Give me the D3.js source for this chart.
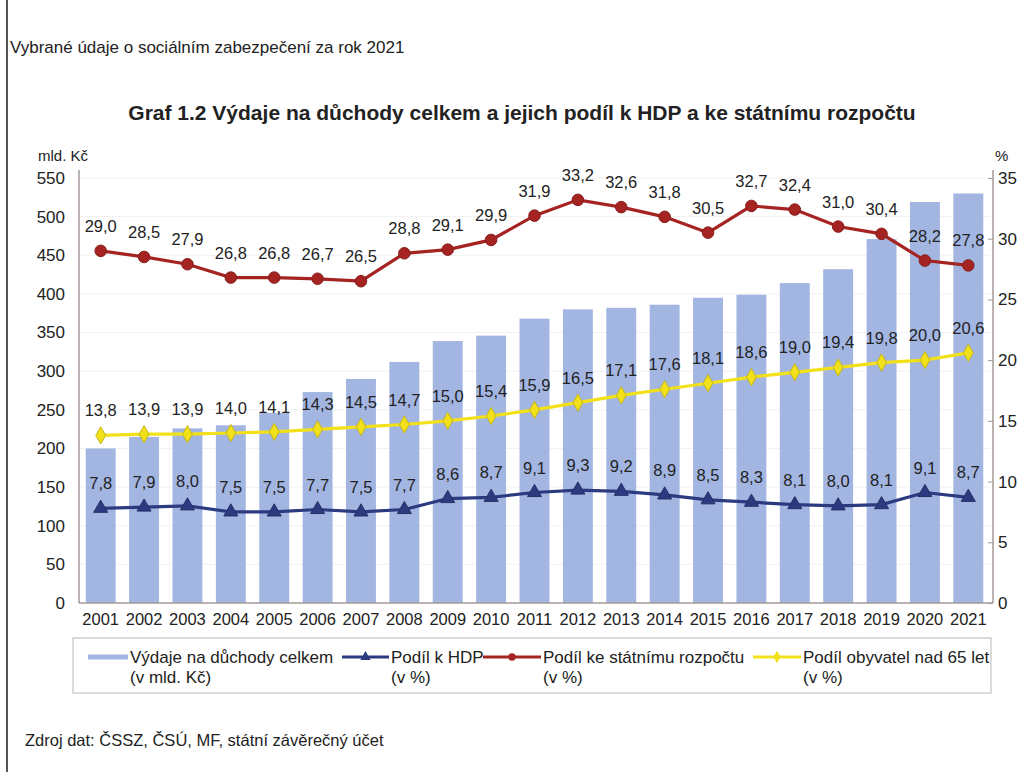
<!DOCTYPE html>
<html>
<head>
<meta charset="utf-8">
<script src="https://cdn.jsdelivr.net/npm/d3@7"></script>
<style>
  body { margin: 0; background: #fff; }
  svg text { font-family: "Liberation Sans", Arial, sans-serif; fill: #222; }
</style>
</head>
<body>
<script>
const width = 1034,
  height = 772,
  marginTop = 178,
  marginBottom = 169,
  marginLeft = 79,
  marginRight = 44;

// data
const years = d3.range(2001, 2022).map(String);
const expenses = [200, 215, 226, 230, 246, 273, 290, 312, 339, 346, 368,
  380, 382, 386, 395, 399, 414, 432, 471, 519, 530];
const shareGdp = [7.8, 7.9, 8.0, 7.5, 7.5, 7.7, 7.5, 7.7, 8.6, 8.7, 9.1,
  9.3, 9.2, 8.9, 8.5, 8.3, 8.1, 8.0, 8.1, 9.1, 8.7];
const shareBudget = [29.0, 28.5, 27.9, 26.8, 26.8, 26.7, 26.5, 28.8, 29.1, 29.9, 31.9,
  33.2, 32.6, 31.8, 30.5, 32.7, 32.4, 31.0, 30.4, 28.2, 27.8];
const share65 = [13.8, 13.9, 13.9, 14.0, 14.1, 14.3, 14.5, 14.7, 15.0, 15.4, 15.9,
  16.5, 17.1, 17.6, 18.1, 18.6, 19.0, 19.4, 19.8, 20.0, 20.6];
const leftTicks = d3.range(0, 551, 50);
const rightTicks = d3.range(0, 36, 5);

const barColor = "#a3b6e2";
const series = [
  { name: "Podíl k HDP", values: shareGdp, color: "#2c3b80", marker: d3.symbolTriangle },
  { name: "Podíl ke státnímu rozpočtu", values: shareBudget, color: "#a52422", marker: d3.symbolCircle },
  { name: "Podíl obyvatel nad 65 let", values: share65, color: "#f2e11a", marker: d3.symbolDiamond },
];

const fmt = (v) => d3.format(".1f")(v).replace(".", ",");

const svg = d3.select("body").append("svg")
  .attr("width", width)
  .attr("height", height);

// page frame line on the left
svg.append("line")
  .attr("x1", 7).attr("x2", 7).attr("y1", 0).attr("y2", height)
  .attr("stroke", "#555").attr("stroke-width", 2);

svg.append("text")
  .attr("x", 10).attr("y", 53)
  .attr("font-size", 17)
  .attr("fill", "#333")
  .text("Vybrané údaje o sociálním zabezpečení za rok 2021");

svg.append("text")
  .attr("x", 522).attr("y", 120)
  .attr("text-anchor", "middle")
  .attr("font-size", 21)
  .attr("font-weight", "bold")
  .text("Graf 1.2 Výdaje na důchody celkem a jejich podíl k HDP a ke státnímu rozpočtu");

const x = d3.scaleBand()
  .domain(years)
  .range([marginLeft, width - marginRight])
  .paddingInner(0.31)
  .paddingOuter(0.155);
const y = d3.scaleLinear().domain([0, 550]).range([height - marginBottom, marginTop]);
const y2 = d3.scaleLinear().domain([0, 35]).range([height - marginBottom, marginTop]);

// faint gridlines
svg.append("g")
  .selectAll("line")
  .data(leftTicks.slice(1))
  .join("line")
  .attr("x1", marginLeft).attr("x2", width - marginRight)
  .attr("y1", (d) => y(d)).attr("y2", (d) => y(d))
  .attr("stroke", "#f1f1f1");

// bars
svg.append("g")
  .selectAll("rect")
  .data(expenses)
  .join("rect")
  .attr("x", (_, i) => x(years[i]))
  .attr("y", (d) => y(d))
  .attr("width", x.bandwidth())
  .attr("height", (d) => y(0) - y(d))
  .attr("fill", barColor);

// axes
const axisColor = "#a39a94";
const leftAxis = svg.append("g")
  .attr("transform", `translate(${marginLeft},0)`)
  .call(d3.axisLeft(y).tickValues(leftTicks).tickSize(0).tickPadding(14));
const rightAxis = svg.append("g")
  .attr("transform", `translate(${width - marginRight + 3},0)`)
  .call(d3.axisRight(y2).tickValues(rightTicks).tickSize(0).tickPadding(5));
rightAxis.selectAll(".tick").append("line")
  .attr("x1", -5).attr("x2", 0).attr("stroke", axisColor);
const bottomAxis = svg.append("g")
  .attr("transform", `translate(0,${height - marginBottom})`)
  .call(d3.axisBottom(x).tickSize(0).tickPadding(8));

[leftAxis, rightAxis, bottomAxis].forEach((a) => {
  a.select(".domain").attr("stroke", axisColor).attr("stroke-width", 1.5);
  a.selectAll("text")
    .attr("font-size", 17)
    .attr("fill", "#222")
    .attr("font-family", "'Liberation Sans', Arial, sans-serif");
});
bottomAxis.selectAll("text").attr("font-size", 16.5).attr("dy", "0.85em");
leftAxis.select(".domain").attr("d", `M0,${marginTop - 8}V${y(0)}`);
rightAxis.select(".domain").attr("d", `M0,${marginTop - 8}V${y(0)}`);
bottomAxis.select(".domain").attr("d", `M${marginLeft},0H${width - marginRight + 3}`);

svg.append("text").attr("x", 38).attr("y", 161).attr("font-size", 15).text("mld. Kč");
svg.append("text").attr("x", 995).attr("y", 161).attr("font-size", 15).text("%");

// lines
const cx = (i) => x(years[i]) + x.bandwidth() / 2;
series.forEach((s) => {
  const line = d3.line()
    .x((_, i) => cx(i))
    .y((d) => y2(d));
  const g = svg.append("g");
  g.append("path")
    .datum(s.values)
    .attr("d", line)
    .attr("fill", "none")
    .attr("stroke", s.color)
    .attr("stroke-width", 3.2);
  g.selectAll("path.m")
    .data(s.values)
    .join("path")
    .attr("class", "m")
    .attr("transform", (d, i) => `translate(${cx(i)},${y2(d)})`)
    .attr("d", d3.symbol().type(s.marker).size(s.marker === d3.symbolCircle ? 105 : 85))
    .attr("fill", s.color)
    .attr("stroke", d3.color(s.color).darker(0.6))
    .attr("stroke-width", 1);
  g.selectAll("text")
    .data(s.values)
    .join("text")
    .attr("x", (_, i) => cx(i))
    .attr("y", (d) => y2(d) - 19)
    .attr("text-anchor", "middle")
    .attr("font-size", 16.5)
    .text(fmt);
});

// legend
const legend = svg.append("g");
legend.append("rect")
  .attr("x", 73).attr("y", 638)
  .attr("width", 918).attr("height", 55)
  .attr("fill", "#fff")
  .attr("stroke", "#c8c2bd")
  .attr("stroke-width", 1.2);

const legendItems = [
  { x: 88, w: 40, label: ["Výdaje na důchody celkem", "(v mld. Kč)"], color: barColor, bar: true },
  { x: 342, w: 47, label: ["Podíl k HDP", "(v %)"], ...series[0] },
  { x: 483, w: 58, label: ["Podíl ke státnímu rozpočtu", "(v %)"], ...series[1] },
  { x: 753, w: 48, label: ["Podíl obyvatel nad 65 let", "(v %)"], ...series[2] },
];
legendItems.forEach((d) => {
  const g = legend.append("g");
  g.append("line")
    .attr("x1", d.x).attr("x2", d.x + d.w)
    .attr("y1", 657).attr("y2", 657)
    .attr("stroke", d.color)
    .attr("stroke-width", d.bar ? 5 : 3.2);
  if (!d.bar) {
    g.append("path")
      .attr("transform", `translate(${d.x + d.w / 2},657)`)
      .attr("d", d3.symbol().type(d.marker).size(45))
      .attr("fill", d.color);
  }
  g.selectAll("text")
    .data(d.label)
    .join("text")
    .attr("x", d.x + d.w + 2)
    .attr("y", (_, i) => 663 + i * 20)
    .attr("font-size", 17)
    .text((t) => t);
});

svg.append("text")
  .attr("x", 25).attr("y", 746)
  .attr("font-size", 16.5)
  .attr("fill", "#222")
  .text("Zdroj dat: ČSSZ, ČSÚ, MF, státní závěrečný účet");
</script>
</body>
</html>
